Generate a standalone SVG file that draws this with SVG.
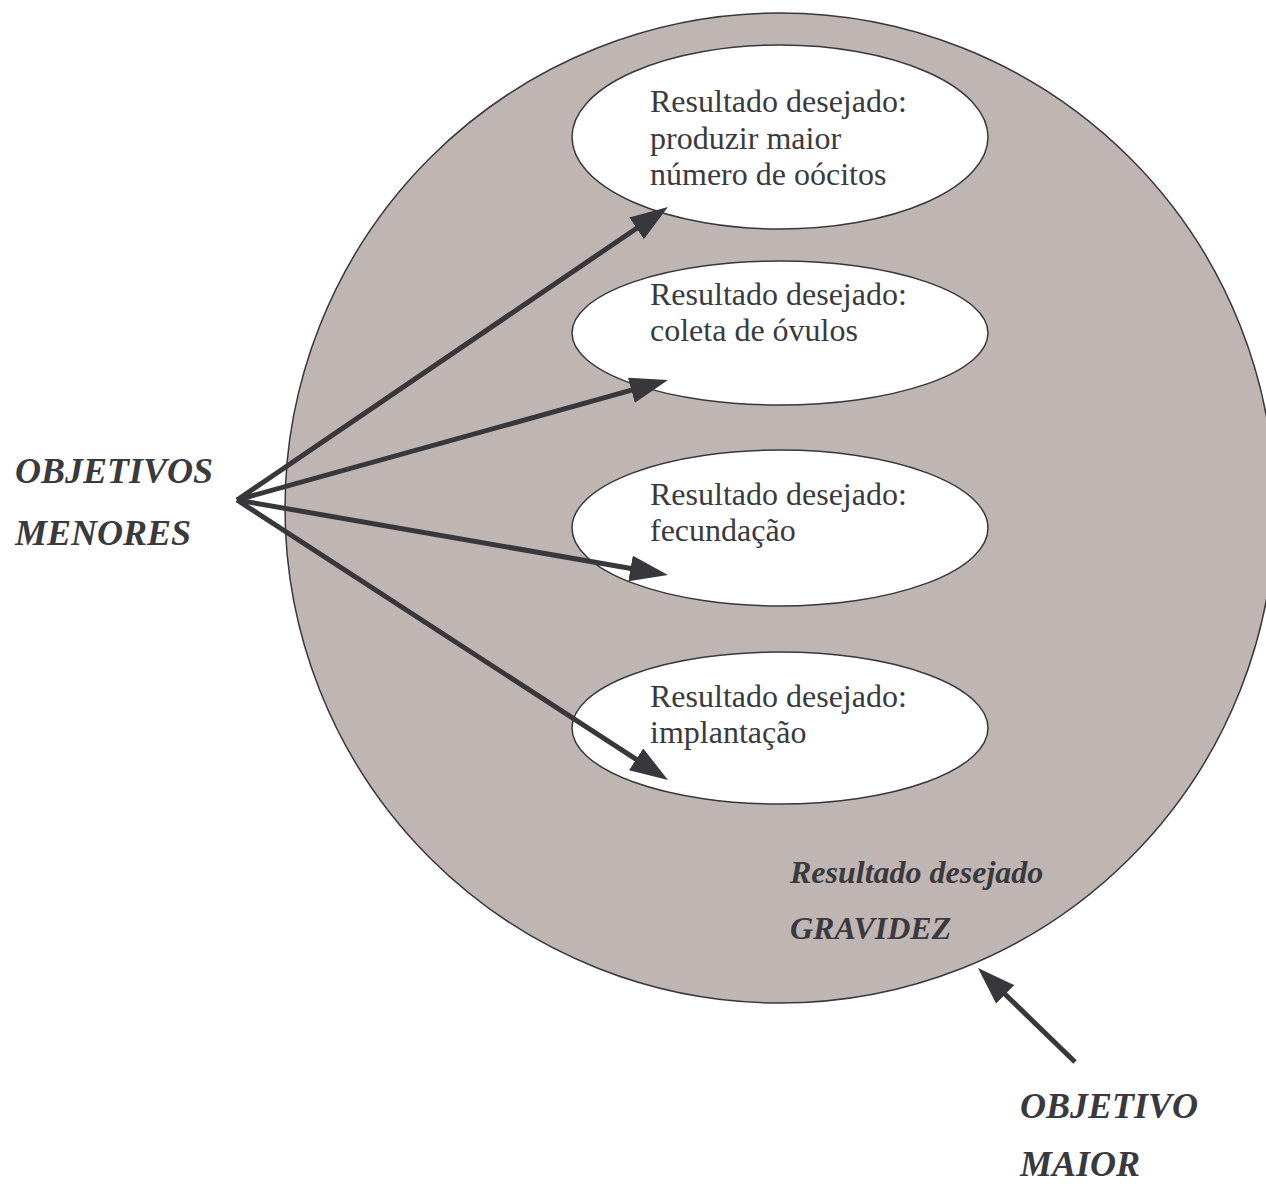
<svg xmlns="http://www.w3.org/2000/svg" width="1266" height="1184" viewBox="0 0 1266 1184">
<defs>
<style>
.big{fill:#bfb5b3;stroke:#38373c;stroke-width:1.5}
.ell{fill:#ffffff;stroke:#38373c;stroke-width:1.5}
.t{font-family:"Liberation Serif","Times New Roman",serif;font-size:32px;fill:#3a3a3e}
.bi{font-family:"Liberation Serif","Times New Roman",serif;font-weight:bold;font-style:italic;fill:#3a3a3e}
.arr{stroke:#38373c;stroke-width:5;fill:none;marker-end:url(#ah)}
</style>
<marker id="ah" markerUnits="userSpaceOnUse" viewBox="0 0 38 26" markerWidth="38" markerHeight="26" refX="2" refY="13" orient="auto">
<path d="M0,0 L38,13 L0,26 z" fill="#38373c"/>
</marker>
</defs>
<rect width="1266" height="1184" fill="#ffffff"/>
<g id="goal">
<circle class="big" cx="780" cy="508" r="495"/>
<text class="bi" x="790" y="883" font-size="32">Resultado desejado</text>
<text class="bi" x="790" y="939" font-size="32">GRAVIDEZ</text>
</g>
<g id="node1">
<ellipse class="ell" cx="780" cy="137" rx="208" ry="92"/>
<text class="t" x="650" y="112">Resultado desejado:</text>
<text class="t" x="650" y="149">produzir maior</text>
<text class="t" x="650" y="185">número de oócitos</text>
</g>
<g id="node2">
<ellipse class="ell" cx="780" cy="333" rx="208" ry="72"/>
<text class="t" x="650" y="305">Resultado desejado:</text>
<text class="t" x="650" y="341">coleta de óvulos</text>
</g>
<g id="node3">
<ellipse class="ell" cx="780" cy="528" rx="208" ry="78"/>
<text class="t" x="650" y="505">Resultado desejado:</text>
<text class="t" x="650" y="541">fecundação</text>
</g>
<g id="node4">
<ellipse class="ell" cx="780" cy="728" rx="208" ry="76"/>
<text class="t" x="650" y="707">Resultado desejado:</text>
<text class="t" x="650" y="743">implantação</text>
</g>
<g id="minor">
<text class="bi" x="15" y="483" font-size="36">OBJETIVOS</text>
<text class="bi" x="15" y="545" font-size="36">MENORES</text>
</g>
<g id="major">
<text class="bi" x="1020" y="1118" font-size="36">OBJETIVO</text>
<text class="bi" x="1020" y="1176" font-size="36">MAIOR</text>
</g>
<g id="connectors">
<line class="arr" x1="237" y1="500" x2="638.2" y2="227.2"/>
<line class="arr" x1="237" y1="500" x2="633.3" y2="389.7"/>
<line class="arr" x1="237" y1="500" x2="632.5" y2="568.8"/>
<line class="arr" x1="237" y1="500" x2="637.8" y2="760.4"/>
<line class="arr" x1="1075" y1="1062" x2="1003.8" y2="993"/>
</g>
</svg>
